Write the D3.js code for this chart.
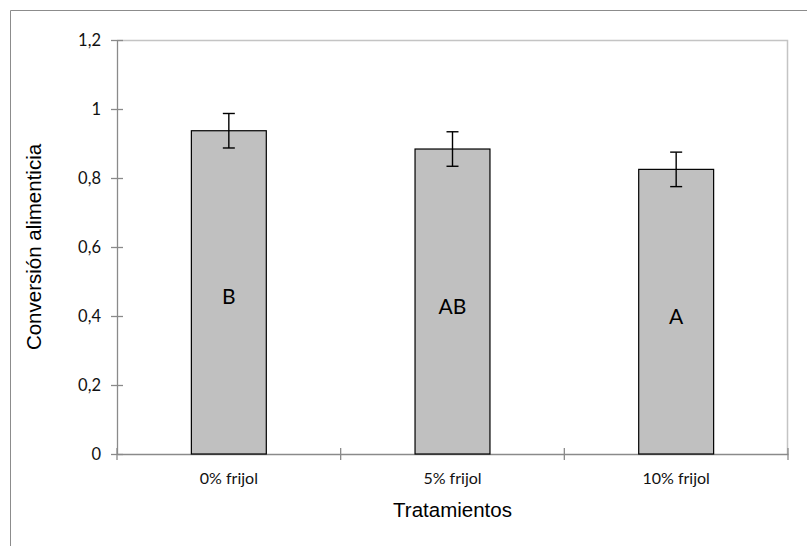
<!DOCTYPE html>
<html>
<head>
<meta charset="utf-8">
<script src="https://cdn.jsdelivr.net/npm/d3@7"></script>
<style>
  body { margin: 0; background: #fff; }
</style>
</head>
<body>
<div id="chart"></div>
<script>
// data
var categories = ["0% frijol", "5% frijol", "10% frijol"];
var means = [0.937, 0.884, 0.825];
var errors = [0.05, 0.05, 0.05];
var letters = ["B", "AB", "A"];
var yTicks = [0, 0.2, 0.4, 0.6, 0.8, 1, 1.2];

function main(){
    buildChart();
}

function fmt(d){
    return String(d).replace(".", ",");
}

function buildChart(){
    var W = 807, H = 546;
    var margin = {top: 40, right: 19, bottom: 92, left: 117},
        width = W - margin.left - margin.right,
        height = H - margin.top - margin.bottom;

    var svg = d3.select("#chart")
        .append("svg")
            .attr("width", W)
            .attr("height", H);

    // outer frame (only top and left visible)
    svg.append("path")
        .attr("d", "M10.5,546V10.5H807")
        .attr("fill", "none")
        .attr("stroke", "#8c8c8c")
        .attr("stroke-width", 1);

    var g = svg.append("g")
        .attr("transform", "translate(" + margin.left + "," + margin.top + ")");

    var xScale = d3.scaleBand().range([0, width]).domain(categories);
    var yScale = d3.scaleLinear().range([height, 0]).domain([0, 1.2]);

    // plot area border top/right
    g.append("path")
        .attr("d", "M0," + 0.5 + "H" + (width - 0.5) + "V" + height)
        .attr("fill", "none")
        .attr("stroke", "#c4c4c4")
        .attr("stroke-width", 1.5);

    // y axis
    var yAxis = g.append("g")
        .call(d3.axisLeft(yScale).tickValues(yTicks).tickFormat(fmt).tickSize(0));
    yAxis.select(".domain").attr("stroke", "#8a8a8a").attr("stroke-width", 1.3);
    yAxis.selectAll(".tick line")
        .attr("x1", -6).attr("x2", 6)
        .attr("stroke", "#8a8a8a").attr("stroke-width", 1.3);
    yAxis.selectAll(".tick text")
        .attr("x", -16)
        .attr("font-family", "Lato, 'Open Sans', sans-serif")
        .attr("font-size", 16.5)
        .attr("fill", "#111");

    // x axis with ticks at category boundaries
    var xAxis = g.append("g")
        .attr("transform", "translate(0," + height + ")")
        .call(d3.axisBottom(xScale).tickSize(0));
    xAxis.select(".domain").attr("stroke", "#8a8a8a").attr("stroke-width", 1.3);
    xAxis.selectAll(".tick text")
        .attr("y", 19)
        .attr("font-family", "Lato, 'Open Sans', sans-serif")
        .attr("font-size", 16)
        .attr("fill", "#111");

    var bounds = categories.map(function(c){ return xScale(c); }).concat([width]);
    xAxis.selectAll(".bound")
        .data(bounds)
        .enter().append("line")
        .attr("class", "bound")
        .attr("x1", function(d){ return d; })
        .attr("x2", function(d){ return d; })
        .attr("y1", -6).attr("y2", 6)
        .attr("stroke", "#8a8a8a").attr("stroke-width", 1.3);

    // bars
    var barW = xScale.bandwidth() * 0.335;
    var cx = function(i){ return xScale(categories[i]) + xScale.bandwidth() / 2; };

    g.selectAll(".bar")
        .data(means)
        .enter().append("rect")
        .attr("class", "bar")
        .attr("x", function(d, i){ return cx(i) - barW / 2; })
        .attr("y", function(d){ return yScale(d); })
        .attr("width", barW)
        .attr("height", function(d){ return height - yScale(d); })
        .attr("fill", "#c0c0c0")
        .attr("stroke", "#000")
        .attr("stroke-width", 1.2);

    // error bars
    var eb = g.selectAll(".err")
        .data(means)
        .enter().append("g")
        .attr("class", "err")
        .attr("stroke", "#000")
        .attr("stroke-width", 1.4);
    eb.append("line")
        .attr("x1", function(d, i){ return cx(i); })
        .attr("x2", function(d, i){ return cx(i); })
        .attr("y1", function(d, i){ return yScale(d + errors[i]); })
        .attr("y2", function(d, i){ return yScale(d - errors[i]); });
    eb.append("line")
        .attr("x1", function(d, i){ return cx(i) - 6; })
        .attr("x2", function(d, i){ return cx(i) + 6; })
        .attr("y1", function(d, i){ return yScale(d + errors[i]); })
        .attr("y2", function(d, i){ return yScale(d + errors[i]); });
    eb.append("line")
        .attr("x1", function(d, i){ return cx(i) - 6; })
        .attr("x2", function(d, i){ return cx(i) + 6; })
        .attr("y1", function(d, i){ return yScale(d - errors[i]); })
        .attr("y2", function(d, i){ return yScale(d - errors[i]); });

    // significance letters
    g.selectAll(".letter")
        .data(letters)
        .enter().append("text")
        .attr("class", "letter")
        .attr("x", function(d, i){ return cx(i); })
        .attr("y", function(d, i){ return yScale(means[i] / 2) + 12; })
        .attr("text-anchor", "middle")
        .attr("font-family", "Lato, 'Open Sans', sans-serif")
        .attr("font-size", 21)
        .attr("fill", "#000")
        .text(function(d){ return d; });

    // axis titles
    svg.append("text")
        .attr("transform", "translate(41," + (margin.top + height / 2) + ") rotate(-90)")
        .attr("text-anchor", "middle")
        .attr("font-family", "'Liberation Sans', Arial, sans-serif")
        .attr("font-size", 20.5)
        .attr("fill", "#000")
        .text("Conversión alimenticia");

    svg.append("text")
        .attr("x", margin.left + width / 2)
        .attr("y", 517)
        .attr("text-anchor", "middle")
        .attr("font-family", "'Liberation Sans', Arial, sans-serif")
        .attr("font-size", 20.5)
        .attr("fill", "#000")
        .text("Tratamientos");
}

main();
</script>
</body>
</html>
